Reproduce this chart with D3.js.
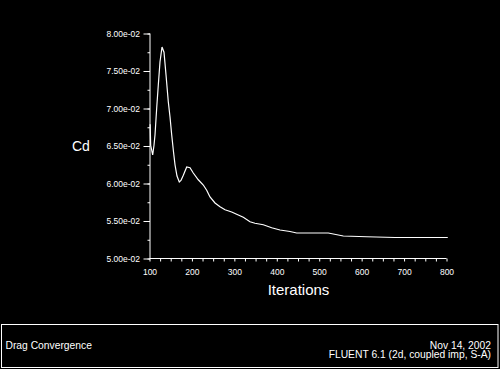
<!DOCTYPE html>
<html>
<head>
<meta charset="utf-8">
<script src="https://cdn.jsdelivr.net/npm/d3@7"></script>
<style>
html,body{margin:0;padding:0;background:#000;}
svg{display:block;}
text{font-family:"Liberation Sans",Arial,sans-serif;fill:#fff;}
</style>
</head>
<body>
<svg id="chart" width="500" height="369"></svg>
<script>
// Data
const iterations = [101.5,102.8,107.5,110.6,113,117,120.7,124.7,129.5,134.2,138.9,144.3,148.3,152.3,156.6,160.1,164.8,170.2,174.2,179.7,187.7,195.5,203.2,215,226.8,234.8,242.6,254.4,266.2,278,293.7,309.3,321.1,336.9,348.6,368.2,388,407.6,431.1,446.9,486,521.4,556.8,611.9,678.6,803];
const cdValues = [0.0679,0.0651,0.0638,0.0651,0.0665,0.0701,0.0731,0.0762,0.0782,0.0775,0.0745,0.0709,0.0689,0.0665,0.0642,0.0625,0.0610,0.0602,0.0604,0.0611,0.0622,0.0621,0.0614,0.0605,0.0598,0.0591,0.0582,0.0574,0.0569,0.0565,0.0562,0.0558,0.0555,0.0549,0.0547,0.0545,0.0541,0.0538,0.0536,0.0534,0.0534,0.0534,0.0530,0.0529,0.0528,0.0528];
const xTicks = [100,200,300,400,500,600,700,800];
const xMinorTicks = d3.range(100, 801, 25);
const yTicks = [0.05,0.055,0.06,0.065,0.07,0.075,0.08];
const yMinorTicks = d3.range(0, 13).map(i => 0.05 + i*0.0025);
const titleLeft = "Drag Convergence";
const footRight = ["Nov 14, 2002", "FLUENT 6.1 (2d, coupled imp, S-A)"];

const svg = d3.select("#chart");
svg.append("rect").attr("width",500).attr("height",369).attr("fill","#000");

const x = d3.scaleLinear().domain([100,800]).range([149.5,446.5]);
const y = d3.scaleLinear().domain([0.05,0.08]).range([258.5,33.5]);

const fmt = v => v.toExponential(2).replace(/e([+-])(\d)$/, "e$10$2");

// X axis
const gx = svg.append("g").attr("transform","translate(0,258.5)");
gx.call(d3.axisBottom(x).tickValues(xMinorTicks).tickSize(3).tickFormat(""));
gx.append("g").call(d3.axisBottom(x).tickValues(xTicks).tickSize(0).tickPadding(10).tickFormat(d3.format("d")));
gx.selectAll(".domain").attr("stroke","#fff").attr("d","M149.5,0H446.5");
gx.selectAll(".tick line").attr("stroke","#fff");
gx.selectAll("text").attr("fill","#fff").attr("font-size","8.5px").attr("font-family","Liberation Sans, Arial, sans-serif");
gx.selectAll("g g .domain").remove();

// Y axis
const gy = svg.append("g").attr("transform","translate(150,0)");
gy.call(d3.axisLeft(y).tickValues(yMinorTicks).tickSize(2.5).tickFormat(""));
const gyM = gy.append("g").call(d3.axisLeft(y).tickValues(yTicks).tickSize(6.5).tickPadding(3.5).tickFormat(fmt));
gyM.select(".domain").remove();
gy.select(".domain").attr("stroke","#fff").attr("d","M0,33.5V258.5");
gy.selectAll(".tick line").attr("stroke","#fff");
gy.selectAll("text").attr("fill","#fff").attr("font-size","8.5px").attr("font-family","Liberation Sans, Arial, sans-serif");

// Curve
const line = d3.line().x((d,i)=>x(iterations[i])).y(d=>y(d));
svg.append("path").datum(cdValues).attr("d",line)
  .attr("fill","none").attr("stroke","#fff").attr("stroke-width",1.2);

// Axis titles
svg.append("text").attr("x",298.5).attr("y",295).attr("text-anchor","middle")
  .attr("font-size","15px").text("Iterations");
svg.append("text").attr("x",72).attr("y",151).attr("font-size","14px").text("Cd");

// Footer box
svg.append("rect").attr("x",1.5).attr("y",324.5).attr("width",496.5).attr("height",43)
  .attr("fill","none").attr("stroke","#fff").attr("stroke-width",1);
svg.append("text").attr("x",5.5).attr("y",349).attr("font-size","10.3px").text(titleLeft);
svg.selectAll("text.fr").data(footRight).enter().append("text").attr("class","fr")
  .attr("x",491).attr("y",(d,i)=>349+i*9).attr("text-anchor","end")
  .attr("font-size","10.3px").text(d=>d);
</script>
</body>
</html>
